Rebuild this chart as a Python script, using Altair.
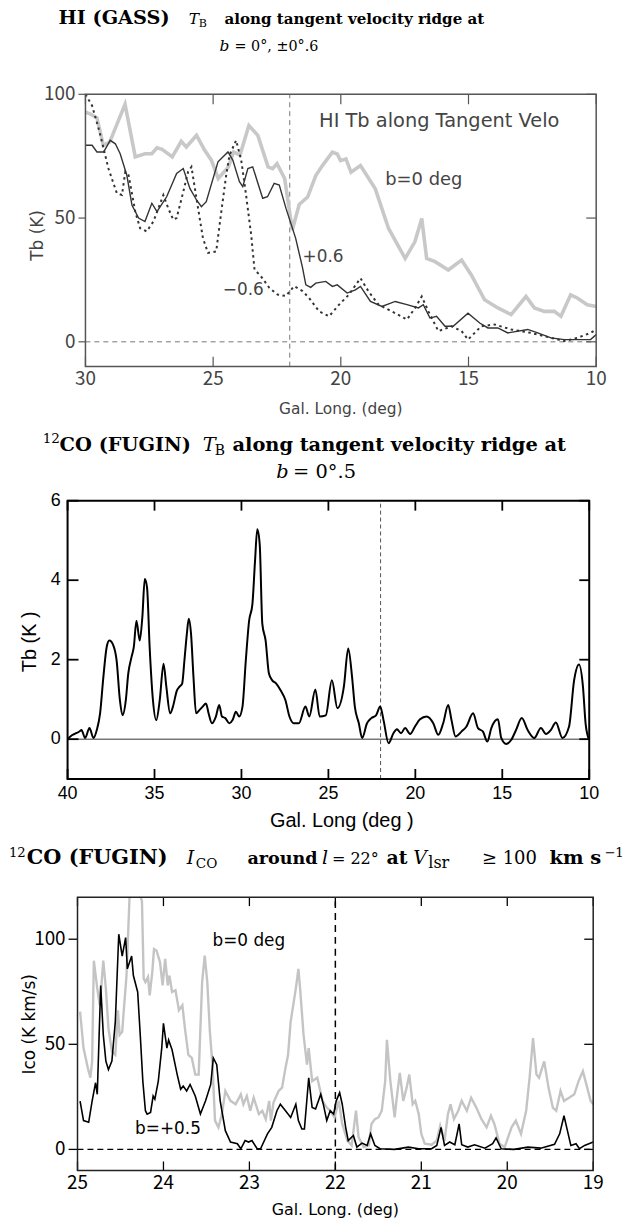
import altair as alt
import pandas as pd

# ---------------- Panel 1: HI (GASS) Tb along tangent velocity ridge ----------------
hi_b0_l = [30.0, 29.8, 29.55, 29.3, 29.05, 28.45, 28.05, 27.67, 27.4, 27.2, 27.0, 26.6, 26.25, 26.05,
           25.65, 25.33, 25.07, 24.8, 24.4, 24.2, 23.95, 23.6, 23.25, 22.85, 22.67, 22.5, 22.2, 21.9,
           21.63, 21.3, 20.98, 20.72, 20.33, 20.14, 20.01, 19.8, 19.6, 19.23, 18.65, 18.13, 17.48, 17.1,
           16.83, 16.64, 16.31, 15.79, 15.27, 14.89, 14.37, 13.85, 13.33, 12.75, 12.42, 12.03, 11.64,
           11.38, 11.0, 10.74, 10.35, 10.0]
hi_b0_T = [92.8, 92.0, 90.5, 79.4, 80.7, 96.0, 74.7, 76.0, 76.0, 78.4, 77.8, 74.7, 81.0, 78.7,
           83.4, 77.4, 73.4, 66.0, 70.7, 76.7, 75.4, 87.4, 83.4, 70.7, 70.0, 72.0, 66.0, 45.2,
           55.5, 58.5, 67.2, 71.2, 76.6, 75.9, 73.2, 73.9, 68.5, 71.2, 61.8, 45.8, 33.7, 40.4,
           49.8, 33.7, 32.4, 29.0, 33.0, 27.0, 17.0, 13.7, 11.0, 18.3, 13.7, 12.3, 12.3,
           10.3, 19.0, 17.7, 15.0, 14.3]

hi_p06_l = [30.0, 29.74, 29.55, 29.29, 29.03, 28.83, 28.64, 28.38, 28.18, 27.92, 27.67, 27.4, 27.2,
            26.82, 26.43, 26.17, 25.91, 25.65, 25.46, 25.27, 24.81, 24.42, 24.23, 23.97, 23.84, 23.64,
            23.45, 23.06, 22.87, 22.61, 22.41, 22.15, 21.77, 21.5, 21.37, 21.18, 20.98, 20.59, 20.33,
            20.14, 19.75, 19.43, 19.23, 18.84, 18.39, 17.87, 17.41, 16.96, 16.77, 16.51, 16.25, 15.92,
            15.6, 15.02, 14.56, 14.24, 13.85, 13.46, 12.68, 12.29, 11.77, 11.25, 10.74, 10.22, 10.0]
hi_p06_T = [79.4, 79.4, 76.7, 76.7, 81.4, 80.0, 76.0, 67.3, 55.3, 50.0, 48.6, 56.0, 52.6,
            58.6, 68.0, 70.0, 62.0, 57.3, 54.6, 56.6, 72.7, 76.7, 73.4, 64.7, 62.7, 70.0,
            70.7, 58.0, 58.6, 64.0, 63.3, 54.0, 41.9, 30.0, 23.0, 22.0, 23.7, 24.4, 22.4,
            23.0, 19.7, 21.0, 22.4, 16.3, 14.3, 16.3, 15.0, 13.7, 15.0, 9.6, 10.3, 6.3,
            6.3, 11.6, 7.6, 5.6, 5.6, 3.6, 5.0, 3.6, 1.6, 0.9, 0.9, 0.9, 2.9]

hi_m06_l = [30.0, 29.74, 29.48, 29.35, 29.1, 28.77, 28.57, 28.44, 28.31, 28.05, 27.86, 27.6, 27.34,
            26.95, 26.76, 26.56, 26.43, 26.17, 25.98, 25.85, 25.59, 25.4, 25.2, 24.88, 24.68, 24.49,
            24.36, 24.1, 23.9, 23.71, 23.51, 23.38, 23.13, 22.8, 22.48, 22.15, 21.83, 21.5, 21.24,
            20.85, 20.46, 20.07, 19.69, 19.23, 18.91, 18.52, 18.0, 17.41, 17.09, 16.83, 16.57, 16.18,
            15.66, 15.27, 15.02, 14.5, 13.98, 13.33, 12.55, 11.77, 11.25, 10.74, 10.22, 10.0]
hi_m06_T = [100.0, 95.4, 86.0, 80.7, 70.0, 60.0, 59.3, 68.7, 67.3, 52.6, 45.9, 44.6, 48.6,
            59.3, 54.0, 49.3, 50.0, 60.6, 68.7, 70.7, 54.0, 41.9, 35.9, 36.5, 52.6, 67.3,
            75.4, 81.4, 73.4, 59.3, 43.2, 29.2, 26.5, 21.8, 19.1, 18.5, 22.5, 20.5, 17.7,
            12.3, 10.3, 15.0, 19.0, 25.7, 20.3, 15.0, 12.3, 9.0, 13.7, 18.3, 12.3, 4.3,
            6.3, 4.3, 0.9, 6.3, 7.0, 5.0, 3.6, 1.6, 0.3, 1.6, 3.6, 5.0]

# ---------------- Panel 2: 12CO (FUGIN) Tb at b = 0.5 ----------------
co_l = [40.0, 39.75, 39.5, 39.3, 39.2, 38.99, 38.74, 38.51, 38.32, 38.13, 37.94, 37.75, 37.6, 37.37,
        37.18, 36.99, 36.84, 36.65, 36.51, 36.32, 36.19, 36.04, 35.85, 35.7, 35.56, 35.43, 35.28,
        35.09, 34.9, 34.7, 34.48, 34.32, 34.1, 33.94, 33.71, 33.56, 33.41, 33.28, 33.14, 33.03, 32.9,
        32.76, 32.61, 32.42, 32.23, 32.04, 31.89, 31.7, 31.47, 31.28, 31.12, 30.93, 30.7, 30.51,
        30.32, 30.13, 29.94, 29.75, 29.56, 29.37, 29.22, 29.09, 28.95, 28.8, 28.61, 28.42, 28.23,
        28.0, 27.75, 27.47, 27.24, 26.99, 26.7, 26.32, 26.1, 25.75, 25.5, 25.15, 24.8, 24.48, 24.11,
        23.86, 23.64, 23.48, 23.25, 23.06, 22.78, 22.53, 22.26, 22.02, 21.83, 21.54, 21.26, 21.06,
        20.82, 20.59, 20.3, 20.02, 19.73, 19.35, 18.97, 18.68, 18.4, 18.11, 17.92, 17.69, 17.35,
        17.06, 16.68, 16.4, 16.11, 15.86, 15.63, 15.25, 15.06, 14.78, 14.49, 14.21, 13.88, 13.54,
        13.16, 12.78, 12.49, 12.21, 11.92, 11.54, 11.16, 10.87, 10.59, 10.36, 10.21, 10.02]
co_T = [0.0, 0.1, 0.15, 0.2, 0.23, 0.03, 0.28, 0.03, 0.23, 0.65, 1.57, 2.32, 2.48, 2.36,
        1.98, 0.98, 0.6, 0.98, 1.65, 2.07, 2.32, 2.98, 2.48, 3.07, 4.03, 3.82, 2.32,
        0.98, 0.48, 0.98, 1.9, 1.32, 0.65, 0.82, 1.23, 1.32, 1.4, 1.98, 2.65, 3.03, 2.65,
        1.57, 0.65, 0.73, 0.82, 0.9, 0.65, 0.4, 0.57, 0.86, 0.57, 0.53, 0.4, 0.48,
        0.69, 0.57, 0.82, 1.98, 2.98, 3.4, 4.48, 5.28, 4.9, 2.9, 2.48, 1.65, 1.48,
        1.4, 1.23, 0.98, 0.57, 0.4, 0.4, 0.82, 0.57, 1.25, 0.57, 0.6, 1.48, 0.78, 1.32,
        2.28, 1.57, 0.82, 0.4, 0.03, 0.4, 0.53, 0.6, 0.82, 0.48, -0.1, 0.15, 0.25,
        0.15, 0.28, 0.13, 0.32, 0.5, 0.57, 0.4, 0.11, 0.4, 0.86, 0.48, 0.07, 0.19,
        0.32, 0.65, 0.28, 0.19, -0.06, 0.28, 0.5, 0.03, -0.12, -0.02, 0.23, 0.53, 0.23,
        0.03, 0.28, 0.13, 0.23, 0.42, 0.03, 0.32, 1.48, 1.88, 1.32, 0.4, 0.0]

# ---------------- Panel 3: 12CO (FUGIN) Ico around l = 22 ----------------
ico_p05_l = [24.97, 24.93, 24.87, 24.83, 24.79, 24.77, 24.73, 24.70, 24.67, 24.64, 24.60, 24.56, 24.52,
             24.48, 24.44, 24.42, 24.37, 24.35, 24.30, 24.27, 24.24, 24.21, 24.19, 24.15, 24.12, 24.10,
             24.06, 24.02, 24.0, 23.96, 23.94, 23.90, 23.84, 23.80, 23.77, 23.73, 23.69, 23.63, 23.57,
             23.51, 23.45, 23.42, 23.38, 23.34, 23.28, 23.22, 23.14, 23.10, 23.05, 23.01, 22.97, 22.91,
             22.87, 22.79, 22.74, 22.68, 22.64, 22.58, 22.52, 22.46, 22.43, 22.39, 22.36, 22.31, 22.27,
             22.23, 22.17, 22.14, 22.10, 22.06, 22.02, 21.99, 21.95, 21.92, 21.88, 21.85, 21.79, 21.75,
             21.69, 21.63, 21.59, 21.54, 21.48, 21.31, 21.15, 21.03, 20.88, 20.82, 20.77, 20.73, 20.67,
             20.61, 20.56, 20.53, 20.46, 20.38, 20.26, 20.17, 20.13, 20.07, 19.92, 19.76, 19.61, 19.45,
             19.39, 19.34, 19.30, 19.26, 19.20, 19.16, 19.10, 19.05, 19.0]
ico_p05_I = [23, 13.7, 12.9, 23, 31.7, 26.2, 78, 54.5, 42, 38, 42, 60.8, 102.4,
             92, 100.8, 85.9, 92, 82.7, 74.9, 54.5, 32.5, 18.4, 16.8, 17.6, 25.4, 23.9,
             32.5, 48.2, 60, 48.2, 52.1, 47.4, 35.6, 28.6, 30.1, 27.8, 30.9, 25.4, 16.8,
             23.1, 30.9, 43.5, 40.3, 23.1, 8.9, 3.5, 2.7, 0.3, 4.2, 3.5, 4.2, 0.3,
             0.3, 7.4, 10.5, 18.4, 21.5, 18.4, 15.2, 21.5, 13.7, 9.7, 9.7, 34, 19.9,
             19.2, 26.2, 21.5, 13.7, 18.4, 16.8, 23.1, 27, 21.5, 10.5, 4.2, 6.6, 1.1,
             3, 1.9, 7.4, 1.9, 0.3, 0, 1.1, 0.3, 0.3, 1.9, 10.5, 1.9, 3.5,
             2.2, 12.1, 2.2, 1.1, 2.2, 0.6, 2.7, 5.5, 0.3, 0, 1.1, 0.6, 2.4,
             7.4, 16, 8.9, 1.9, 2.7, 0.3, 1.9, 2.7, 3.5]

ico_b0_l = [24.97, 24.93, 24.88, 24.85, 24.83, 24.81, 24.77, 24.74, 24.70, 24.67, 24.64, 24.60, 24.56,
            24.53, 24.51, 24.48, 24.46, 24.43, 24.39, 24.30, 24.25, 24.23, 24.21, 24.18, 24.16, 24.13,
            24.11, 24.08, 24.04, 24.01, 23.98, 23.95, 23.93, 23.90, 23.86, 23.82, 23.78, 23.75, 23.71,
            23.67, 23.63, 23.59, 23.55, 23.52, 23.49, 23.46, 23.43, 23.40, 23.36, 23.32, 23.28, 23.22,
            23.16, 23.10, 23.07, 23.03, 22.99, 22.95, 22.89, 22.85, 22.81, 22.77, 22.75, 22.72, 22.66,
            22.62, 22.58, 22.55, 22.52, 22.46, 22.43, 22.41, 22.37, 22.33, 22.31, 22.27, 22.21, 22.15,
            22.10, 22.06, 22.01, 21.96, 21.92, 21.86, 21.81, 21.76, 21.73, 21.67, 21.61, 21.58, 21.54,
            21.50, 21.46, 21.42, 21.40, 21.36, 21.31, 21.29, 21.25, 21.21, 21.17, 21.14, 21.10, 21.07,
            21.03, 21.0, 20.96, 20.88, 20.82, 20.78, 20.73, 20.69, 20.66, 20.62, 20.57, 20.53, 20.47,
            20.42, 20.36, 20.30, 20.24, 20.19, 20.15, 20.09, 20.03, 19.99, 19.95, 19.90, 19.84, 19.78,
            19.74, 19.70, 19.66, 19.63, 19.57, 19.52, 19.47, 19.43, 19.38, 19.34, 19.28, 19.22, 19.17,
            19.12, 19.07, 19.03, 19.0]
ico_b0_I = [65.5, 48.2, 38.8, 34.1, 41.9, 89.8, 76.5, 68.6, 89.8, 76.5, 57.6, 46.6, 45,
            66.2, 54.5, 56, 67, 82.7, 125, 125, 118, 81.2, 79.6, 82, 73.3, 84.3,
            95.3, 94.5, 89, 78, 90.6, 78, 82.7, 74.9, 75.7, 66.2, 68.6, 57.6, 45,
            43.5, 35.6, 35.6, 79.6, 92.2, 79.6, 56, 40.3, 13.7, 10.5, 16.8, 27.8, 23.1,
            21.5, 26.2, 21.5, 25.4, 18.4, 24.6, 16.8, 18.4, 14.4, 23.1, 13.7, 22.3, 27.8,
            29.4, 38.8, 45, 60.8, 76.5, 85.9, 76.5, 54.5, 40.3, 48.2, 32.5, 34.1, 23.1,
            19.9, 18.4, 15.2, 23.1, 12.1, 4.2, 1.9, 18.4, 5.8, 1.1, 1.9, 12.1, 14.4,
            15.2, 18.4, 32.5, 52.1, 32.5, 15.2, 23.1, 36.4, 23.1, 29.4, 35.6, 21.5, 23.1,
            16.8, 7.4, 2.7, 2.2, 4.2, 11.3, 4.2, 16.8, 21.5, 14.4, 18.4, 23.1, 18.4,
            24.6, 19.9, 14.4, 10.5, 16, 12.1, 2.7, 1.1, 5.8, 10.5, 13.7, 7.4, 18.4,
            34.1, 52.9, 35.6, 34.1, 41.9, 29.4, 19.9, 18.4, 27.8, 23.1, 24.6, 26.2, 32.5,
            37.2, 29.4, 23.1, 21.5]

# tick values / labels
p1_xticks = [30, 25, 20, 15, 10]
p1_yticks = [0, 50, 100]
p2_xticks = [40, 35, 30, 25, 20, 15, 10]
p2_yticks = [0, 2, 4, 6]
p3_xticks = [25, 24, 23, 22, 21, 20, 19]
p3_yticks = [0, 50, 100]

GOTHIC = "Noto Sans CJK JP"
DSANS = "DejaVu Sans"
SANS = "Liberation Sans"
SERIF = "DejaVu Serif"

dummy = pd.DataFrame({"k": [0]})


def seg(txt, x, y, top, size, weight="normal", style="normal", font=SERIF, color="black"):
    return alt.Chart(dummy).mark_text(
        text=txt, font=font, fontSize=size, fontWeight=weight, fontStyle=style,
        align="left", baseline="alphabetic", color=color
    ).encode(x=alt.value(x), y=alt.value(y - top))


def label_text(txt, x, y, font, size, color="black", angle=0):
    return alt.Chart(dummy).mark_text(
        text=txt, font=font, fontSize=size, color=color, align="center", baseline="middle", angle=angle
    ).encode(x=alt.value(x), y=alt.value(y))


def xtick_marks(vals, xs, y0, y1, color, width):
    return alt.Chart(pd.DataFrame({"v": vals})).mark_rule(color=color, strokeWidth=width).encode(
        x=alt.X("v:Q", scale=xs, axis=None), y=alt.value(y0), y2=alt.value(y1))


def ytick_marks(vals, ys, x0, x1, color, width):
    return alt.Chart(pd.DataFrame({"v": vals})).mark_rule(color=color, strokeWidth=width).encode(
        y=alt.Y("v:Q", scale=ys, axis=None), x=alt.value(x0), x2=alt.value(x1))


def xtick_labels(vals, xs, y, font, size, color):
    d = pd.DataFrame({"v": vals, "t": [str(v) for v in vals]})
    return alt.Chart(d).mark_text(font=font, fontSize=size, color=color, align="center",
                                  baseline="top").encode(
        x=alt.X("v:Q", scale=xs, axis=None), y=alt.value(y), text="t:N")


def ytick_labels(vals, ys, x, font, size, color):
    d = pd.DataFrame({"v": vals, "t": [str(v) for v in vals]})
    return alt.Chart(d).mark_text(font=font, fontSize=size, color=color, align="right",
                                  baseline="middle").encode(
        y=alt.Y("v:Q", scale=ys, axis=None), x=alt.value(x), text="t:N")


def frame(dx, dy, xs, ys, color, width):
    d = pd.DataFrame({"x0": [dx[0]], "x1": [dx[1]], "y0": [dy[0]], "y1": [dy[1]]})
    return alt.Chart(d).mark_rect(fill="transparent", stroke=color, strokeWidth=width).encode(
        x=alt.X("x0:Q", scale=xs, axis=None), x2="x1:Q",
        y=alt.Y("y0:Q", scale=ys, axis=None), y2="y1:Q")


def hrule(xa, xb, v, xs, ys, color, width, dash=None):
    kw = dict(color=color, strokeWidth=width)
    if dash:
        kw["strokeDash"] = dash
    return alt.Chart(pd.DataFrame({"a": [xa], "b": [xb], "v": [v]})).mark_rule(**kw).encode(
        x=alt.X("a:Q", scale=xs, axis=None), x2="b:Q", y=alt.Y("v:Q", scale=ys, axis=None))


def vrule(v, ya, yb, xs, ys, color, width, dash=None):
    kw = dict(color=color, strokeWidth=width)
    if dash:
        kw["strokeDash"] = dash
    return alt.Chart(pd.DataFrame({"v": [v], "a": [ya], "b": [yb]})).mark_rule(**kw).encode(
        x=alt.X("v:Q", scale=xs, axis=None), y=alt.Y("a:Q", scale=ys, axis=None), y2="b:Q")


# ============ Panel 1 ============
L1, R1, T1, H1 = 85, 599, 90, 274
x1 = alt.Scale(domain=[30, 10], range=[L1, R1], nice=False, zero=False)
y1 = alt.Scale(domain=[-10, 100], nice=False, zero=False)
g1 = "#444444"
c1 = "#555555"

p1_gray = alt.Chart(pd.DataFrame({"l": hi_b0_l, "T": hi_b0_T})).mark_line(
    color="#c8c8c8", strokeWidth=3.6).encode(
    x=alt.X("l:Q", scale=x1, axis=None), y=alt.Y("T:Q", scale=y1, axis=None))
p1_solid = alt.Chart(pd.DataFrame({"l": hi_p06_l, "T": hi_p06_T})).mark_line(
    color="#333333", strokeWidth=1.4).encode(
    x=alt.X("l:Q", scale=x1, axis=None), y=alt.Y("T:Q", scale=y1, axis=None))
p1_dot = alt.Chart(pd.DataFrame({"l": hi_m06_l, "T": hi_m06_T})).mark_line(
    color="#333333", strokeWidth=2, strokeDash=[2.5, 3.5]).encode(
    x=alt.X("l:Q", scale=x1, axis=None), y=alt.Y("T:Q", scale=y1, axis=None))
p1_lab = pd.DataFrame({
    "l": [20.85, 18.26, 21.5, 24.62],
    "T": [89.0, 65.2, 34.4, 20.9],
    "txt": ["HI Tb along Tangent Velo", "b=0 deg", "+0.6", "\u22120.6"],
    "fs": [19.5, 18, 17, 17],
})
p1_text = alt.Chart(p1_lab).mark_text(font=DSANS, color=g1, align="left", baseline="middle").encode(
    x=alt.X("l:Q", scale=x1, axis=None), y=alt.Y("T:Q", scale=y1, axis=None), text="txt:N",
    size=alt.Size("fs:Q", scale=None, legend=None))

S1 = 15.5
t1 = [
    seg("HI (GASS)", 58, 19, T1, S1 * 1.25, "bold"),
    seg("T", 189, 19, T1, S1, style="italic"),
    seg("B", 199, 22, T1, S1 * 0.72),
    seg("along tangent velocity ridge at", 225, 19, T1, S1 * 0.98, "bold"),
    seg("b", 220, 46, T1, S1, style="italic"),
    seg("= 0°, ±0°.6", 235, 46, T1, S1 * 0.93),
]
panel1 = alt.layer(
    hrule(30, 10, 0, x1, y1, "#777777", 1, [5, 4]),
    vrule(22, -10, 100, x1, y1, "#777777", 1, [5, 4]),
    p1_gray, p1_solid, p1_dot, p1_text,
    xtick_marks(p1_xticks, x1, 0, 10, c1, 1.2),
    xtick_marks(p1_xticks, x1, H1 - 10, H1, c1, 1.2),
    ytick_marks(p1_yticks, y1, L1 - 7, L1, c1, 1.2),
    ytick_marks(p1_yticks, y1, R1 - 10, R1, c1, 1.2),
    xtick_labels(p1_xticks, x1, H1 + 4, GOTHIC, 19, g1),
    ytick_labels(p1_yticks, y1, L1 - 10, GOTHIC, 19, g1),
    label_text("Gal. Long. (deg)", (L1 + R1) / 2, 407 - T1, DSANS, 15.5, g1),
    label_text("Tb (K)", 37, 232 - T1, DSANS, 17, g1, angle=270),
    frame((30, 10), (-10, 100), x1, y1, c1, 1.5),
    *t1,
).properties(width=R1, height=H1)

# ============ Panel 2 ============
L2, R2, T2, H2 = 67, 592, 499, 280
x2 = alt.Scale(domain=[40, 10], range=[L2, R2], nice=False, zero=False)
y2 = alt.Scale(domain=[-1, 6], nice=False, zero=False)
p2_line = alt.Chart(pd.DataFrame({"l": co_l, "T": co_T})).mark_line(
    color="black", strokeWidth=2, interpolate="monotone").encode(
    x=alt.X("l:Q", scale=x2, axis=None), y=alt.Y("T:Q", scale=y2, axis=None))
S2 = 19.5
t2 = [
    seg("12", 42, 441, T2, S2 * 0.7),
    seg("CO (FUGIN)", 59, 449, T2, S2, "bold"),
    seg("T", 203, 449, T2, S2, style="italic"),
    seg("B", 215, 453, T2, S2 * 0.72),
    seg("along tangent velocity ridge at", 233, 449, T2, S2, "bold"),
    seg("b", 277, 476, T2, S2, style="italic"),
    seg("= 0°.5", 294, 476, T2, S2),
]
panel2 = alt.layer(
    hrule(40, 10, 0, x2, y2, "#333333", 1),
    vrule(22, -1, 6, x2, y2, "#555555", 1, [4, 3]),
    p2_line,
    xtick_marks(p2_xticks, x2, 0, 10, "black", 1.8),
    xtick_marks(p2_xticks, x2, H2 - 10, H2, "black", 1.8),
    ytick_marks(p2_yticks, y2, L2, L2 + 11, "black", 1.8),
    ytick_marks(p2_yticks, y2, R2 - 10, R2, "black", 1.8),
    xtick_labels(p2_xticks, x2, H2 + 6, SANS, 18, "black"),
    ytick_labels(p2_yticks, y2, L2 - 7, SANS, 18, "black"),
    label_text("Gal. Long   (deg )", 343, 821 - T2, SANS, 20, "black"),
    label_text("Tb  (K )", 29, 641 - T2, SANS, 20, "black", angle=270),
    frame((40, 10), (-1, 6), x2, y2, "black", 2),
    *t2,
).properties(width=R2, height=H2)

# ============ Panel 3 ============
L3, R3, T3, H3 = 77, 596, 898, 275
x3 = alt.Scale(domain=[25, 19], range=[L3, R3], nice=False, zero=False)
y3 = alt.Scale(domain=[-10, 120], nice=False, zero=False)
p3_gray = alt.Chart(pd.DataFrame({"l": ico_b0_l, "I": ico_b0_I})).mark_line(
    color="#c4c4c4", strokeWidth=2.4, clip=True).encode(
    x=alt.X("l:Q", scale=x3, axis=None), y=alt.Y("I:Q", scale=y3, axis=None))
p3_black = alt.Chart(pd.DataFrame({"l": ico_p05_l, "I": ico_p05_I})).mark_line(
    color="black", strokeWidth=1.6, clip=True).encode(
    x=alt.X("l:Q", scale=x3, axis=None), y=alt.Y("I:Q", scale=y3, axis=None))
p3_lab = pd.DataFrame({"l": [23.43, 24.33], "I": [99.2, 9.7], "txt": ["b=0 deg", "b=+0.5"]})
p3_text = alt.Chart(p3_lab).mark_text(font=DSANS, fontSize=17, color="black", align="left", baseline="middle").encode(
    x=alt.X("l:Q", scale=x3, axis=None), y=alt.Y("I:Q", scale=y3, axis=None), text="txt:N")
S3 = 19
b3 = 865
t3 = [
    seg("12", 8, b3 - 7, T3, S3 * 0.7),
    seg("CO (FUGIN)", 26, b3, T3, S3 * 1.1, "bold"),
    seg("I", 187, b3, T3, S3, style="italic"),
    seg("CO", 196, b3 + 4, T3, S3 * 0.72),
    seg("around", 248, b3, T3, S3 * 0.93, "bold"),
    seg("l", 323, b3, T3, S3, style="italic"),
    seg("= 22°", 333, b3, T3, S3 * 0.85),
    seg("at", 388, b3, T3, S3, "bold"),
    seg("V", 415, b3, T3, S3, style="italic"),
    seg("lsr", 430, b3 + 4, T3, S3 * 0.85),
    seg("≥ 100", 484, b3, T3, S3 * 0.95),
    seg("km s", 552, b3, T3, S3 * 1.03, "bold"),
    seg("−1", 607, b3 - 7, T3, S3 * 0.7),
]
panel3 = alt.layer(
    hrule(25, 19, 0, x3, y3, "black", 1.2, [6, 4]),
    vrule(22, -10, 120, x3, y3, "black", 1.5, [7, 5]),
    p3_gray, p3_black, p3_text,
    xtick_marks(p3_xticks, x3, 0, 9, "black", 1.3),
    xtick_marks(p3_xticks, x3, H3 - 9, H3, "black", 1.3),
    ytick_marks(p3_yticks, y3, L3 - 9, L3, "black", 1.3),
    ytick_marks(p3_yticks, y3, R3 - 9, R3, "black", 1.3),
    xtick_labels(p3_xticks, x3, H3 + 4, GOTHIC, 19, "black"),
    ytick_labels(p3_yticks, y3, L3 - 12, GOTHIC, 19, "black"),
    label_text("Gal. Long. (deg)", (L3 + R3) / 2, 1213 - T3, DSANS, 16, "black"),
    label_text("Ico (K km/s)", 29, 1026 - T3, DSANS, 17, "black", angle=270),
    frame((25, 19), (-10, 120), x3, y3, "#222222", 1.5),
    *t3,
).properties(width=R3, height=H3)


def spacer(w, h):
    return alt.Chart(dummy).mark_point(opacity=0).encode(
        x=alt.value(w / 2), y=alt.value(h / 2)).properties(width=w, height=h)


chart = alt.vconcat(
    spacer(10, T1), panel1, spacer(10, T2 - T1 - H1), panel2, spacer(10, T3 - T2 - H2), panel3,
    spacing=0, bounds="flush"
).properties(padding=0, background="white").configure_view(stroke="transparent")

chart.save("out.html", embed_options={"renderer": "svg", "actions": False})
